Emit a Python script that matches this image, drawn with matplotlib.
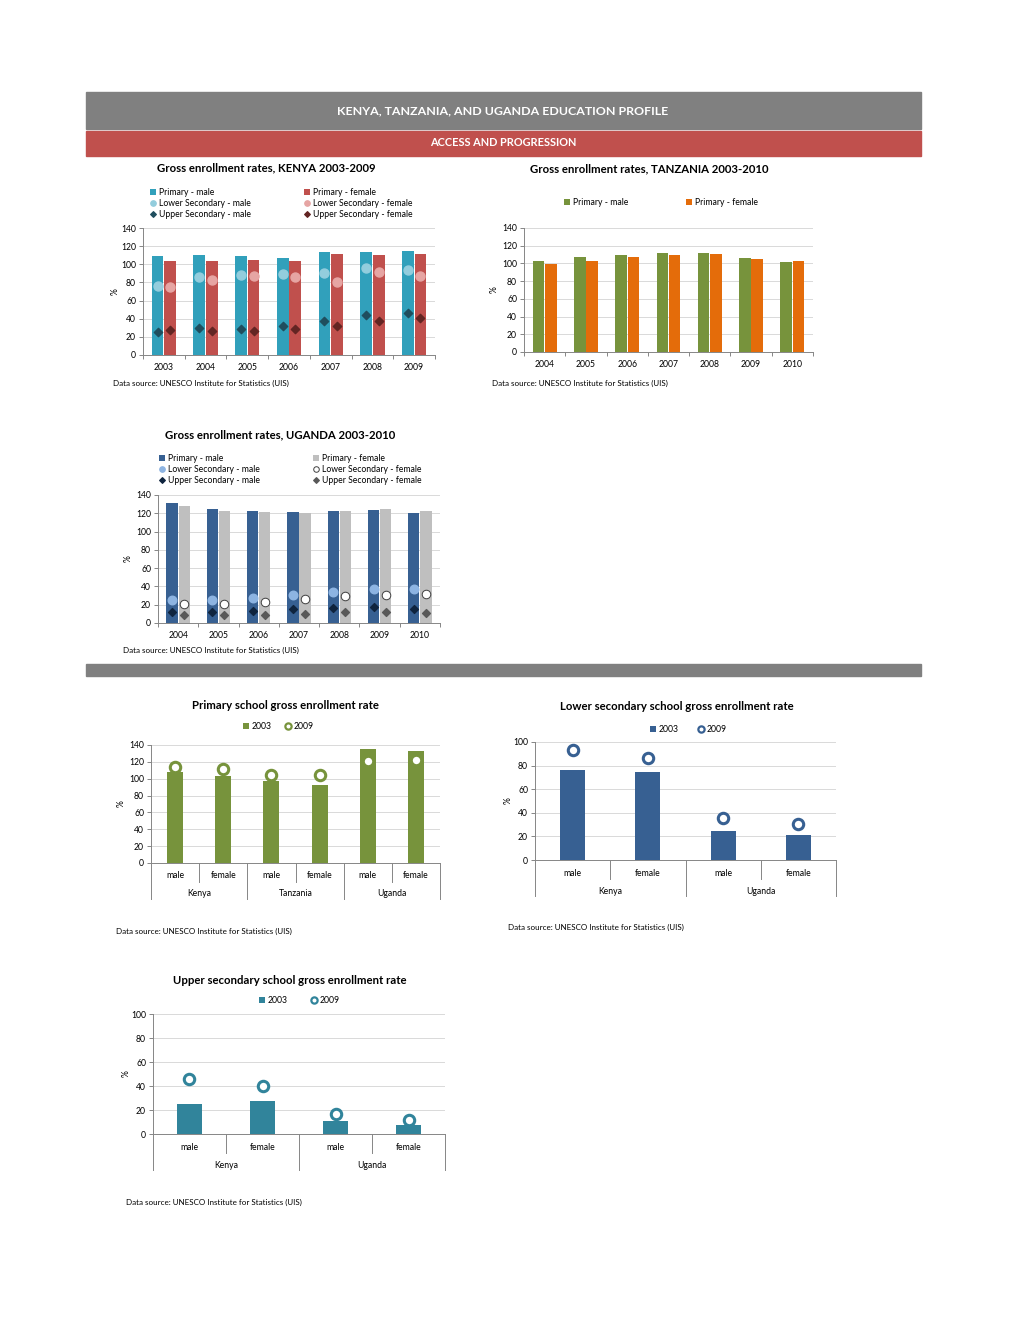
import numpy as np
import matplotlib.pyplot as plt
from matplotlib.patches import Rectangle, Patch
from matplotlib.lines import Line2D
import matplotlib.transforms as mtransforms

plt.rcParams['font.family'] = ['Lato', 'DejaVu Sans']

# ---- data ----
kenya_years = ['2003', '2004', '2005', '2006', '2007', '2008', '2009']
kenya_prim_m = [109, 110, 109.5, 107, 113, 113, 114.5]
kenya_prim_f = [104, 103.5, 105, 103.5, 111, 110.5, 111.5]
kenya_low_m = [76, 85.5, 88, 89.5, 90.5, 95.5, 94]
kenya_low_f = [74.5, 82.5, 87, 85.5, 80, 91, 87.5]
kenya_up_m = [25, 29.5, 29, 32, 37.5, 44, 46.5]
kenya_up_f = [27.5, 26.5, 26, 29, 32.5, 38, 40.5]

tz_years = ['2004', '2005', '2006', '2007', '2008', '2009', '2010']
tz_prim_m = [103, 107.5, 110, 111.5, 112, 106, 101.5]
tz_prim_f = [99.5, 103, 107, 109.5, 110.5, 105.5, 103]

ug_years = ['2004', '2005', '2006', '2007', '2008', '2009', '2010']
ug_prim_m = [131.5, 124.5, 122, 121, 123, 123.5, 120]
ug_prim_f = [128, 122, 121, 120.5, 123, 124.5, 122]
ug_low_m = [25.5, 25.5, 27, 30.5, 34, 37, 37]
ug_low_f = [20.5, 20.5, 22.5, 26, 29, 31, 32]
ug_up_m = [12.5, 12.5, 13, 15.5, 16, 17.5, 15]
ug_up_f = [8.5, 8.5, 9, 10, 11.5, 12.5, 11]

sex_labels = ['male', 'female']
prim_countries = ['Kenya', 'Tanzania', 'Uganda']
prim_2003 = [108, 103, 97, 93, 135, 133]
prim_2009 = [114, 111.5, 105, 105, 121, 122]

sec_countries = ['Kenya', 'Uganda']
low_2003 = [76, 74.5, 25, 21]
low_2009 = [93, 86.5, 35.5, 30.5]
up_2003 = [25, 27.5, 11, 7.5]
up_2009 = [46, 40, 16.5, 12]

source = 'Data source: UNESCO Institute for Statistics (UIS)'

W, H = 1020, 1320
fig = plt.figure(figsize=(W / 100, H / 100), dpi=100)
GRID = '#D9D9D9'
AXC = '#868686'
TXT = '#000000'
FS = 6.2       # small text
TFS = 8.2      # chart titles
SFS = 5.8      # data source


def add_ax(x0, y0, x1, y1):
    return fig.add_axes([x0 / W, 1 - y1 / H, (x1 - x0) / W, (y1 - y0) / H])


def ftext(x, y, s, **kw):
    fig.text(x / W, 1 - y / H, s, **kw)


def band(y0, y1, color):
    fig.patches.append(Rectangle((86 / W, 1 - y1 / H), (921 - 86) / W, (y1 - y0) / H,
                                 transform=fig.transFigure, color=color, zorder=0))


def legend_at(handles, labels, x, y):
    return fig.legend(handles, labels, loc='upper left', bbox_to_anchor=(x / W, 1 - y / H),
                      frameon=False, fontsize=FS, borderpad=0, borderaxespad=0,
                      handlelength=0.7, handletextpad=0.35, labelspacing=0.22,
                      handleheight=0.7)


def sq(c):
    return Patch(facecolor=c, edgecolor='none')


def mk(marker, fc, ec=None, ms=4, mew=0.8):
    return Line2D([], [], marker=marker, linestyle='none', markerfacecolor=fc,
                  markeredgecolor=ec if ec else fc, markersize=ms, markeredgewidth=mew)


def style(ax, ymax, step, ylab_off):
    ax.set_ylim(0, ymax)
    ax.set_yticks(range(0, ymax + 1, step))
    ax.grid(axis='y', color=GRID, lw=0.7)
    ax.set_axisbelow(True)
    for s in ['top', 'right']:
        ax.spines[s].set_visible(False)
    for s in ['left', 'bottom']:
        ax.spines[s].set_color(AXC)
        ax.spines[s].set_linewidth(0.7)
    ax.tick_params(axis='y', labelsize=FS, color=AXC, length=3, width=0.7, pad=2)
    ax.set_ylabel('%', fontsize=FS, va='center')
    w_px = ax.get_position().width * W
    ax.yaxis.set_label_coords(-ylab_off / w_px, 0.5)


def year_axis(ax, labels):
    n = len(labels)
    ax.set_xlim(-0.5, n - 0.5)
    ax.set_xticks(np.arange(n))
    ax.set_xticklabels(labels)
    ax.set_xticks(np.arange(n + 1) - 0.5, minor=True)
    ax.tick_params(axis='x', which='major', length=0, labelsize=FS, pad=6)
    ax.tick_params(axis='x', which='minor', length=3, width=0.7, color=AXC)


def two_level(ax, countries, per, lab1=13, lab2=31, short=19, long=36):
    n = len(countries) * per
    ax.set_xlim(-0.5, n - 0.5)
    ax.set_xticks([])
    hp = ax.get_position().height * H
    tr = mtransforms.blended_transform_factory(ax.transData, ax.transAxes)
    for i in range(n):
        ax.text(i, -lab1 / hp, sex_labels[i % per], transform=tr, ha='center', va='center',
                fontsize=FS, color=TXT)
    for j, c in enumerate(countries):
        ax.text(j * per + (per - 1) / 2, -lab2 / hp, c, transform=tr, ha='center', va='center',
                fontsize=FS, color=TXT)
    for b in range(n + 1):
        xb = b - 0.5
        ln = long if b % per == 0 else short
        ax.plot([xb, xb], [0, -ln / hp], transform=tr, color=AXC, lw=0.7, clip_on=False)


# ---- header bands ----
band(92, 129, '#808080')
band(131, 156, '#C0504D')
band(664, 676, '#808080')
ftext(503, 111, 'KENYA, TANZANIA, AND UGANDA EDUCATION PROFILE', color='white',
      fontsize=8.9, fontweight='bold', ha='center', va='center')
ftext(503, 143, 'ACCESS AND PROGRESSION', color='white', fontsize=7.9,
      fontweight='bold', ha='center', va='center')

# ---- Kenya ----
c_km, c_kf = '#31A0BB', '#C0504D'
c_klm, c_klf = '#93CDDD', '#E6A5A3'
c_kum, c_kuf = '#1F4E5E', '#632523'
ax = add_ax(143, 228, 435, 355)
x = np.arange(len(kenya_years))
off, bw = 0.15, 0.28
ax.bar(x - off, kenya_prim_m, bw, color=c_km, zorder=2)
ax.bar(x + off, kenya_prim_f, bw, color=c_kf, zorder=2)
ax.scatter(x - off, kenya_low_m, s=42, color=c_klm, zorder=3)
ax.scatter(x + off, kenya_low_f, s=42, color=c_klf, zorder=3)
ax.scatter(x - off, kenya_up_m, s=18, marker='D', color=c_kum, zorder=3)
ax.scatter(x + off, kenya_up_f, s=18, marker='D', color=c_kuf, zorder=3)
style(ax, 140, 20, 28)
year_axis(ax, kenya_years)
ftext(266, 168, 'Gross enrollment rates, KENYA 2003-2009', fontsize=TFS, fontweight='bold',
      ha='center', va='center')
legend_at([sq(c_km), mk('o', c_klm), mk('D', c_kum, ms=3)],
          ['Primary - male', 'Lower Secondary - male', 'Upper Secondary - male'], 150, 188)
legend_at([sq(c_kf), mk('o', c_klf), mk('D', c_kuf, ms=3)],
          ['Primary - female', 'Lower Secondary - female', 'Upper Secondary - female'], 304, 188)
ftext(113, 383, source, fontsize=SFS, va='center')

# ---- Tanzania ----
c_tm, c_tf = '#77933C', '#E46C0A'
ax = add_ax(524, 228, 813, 352)
x = np.arange(len(tz_years))
ax.bar(x - off, tz_prim_m, bw, color=c_tm, zorder=2)
ax.bar(x + off, tz_prim_f, bw, color=c_tf, zorder=2)
style(ax, 140, 20, 30)
year_axis(ax, tz_years)
ftext(649, 169, 'Gross enrollment rates, TANZANIA 2003-2010', fontsize=TFS, fontweight='bold',
      ha='center', va='center')
legend_at([sq(c_tm)], ['Primary - male'], 564, 198)
legend_at([sq(c_tf)], ['Primary - female'], 686, 198)
ftext(492, 383, source, fontsize=SFS, va='center')

# ---- Uganda ----
c_um, c_uf = '#376092', '#BFBFBF'
c_ulm = '#8DB4E2'
c_uum, c_uuf = '#0F243E', '#595959'
ax = add_ax(158, 495, 440, 623)
x = np.arange(len(ug_years))
ax.bar(x - off, ug_prim_m, bw, color=c_um, zorder=2)
ax.bar(x + off, ug_prim_f, bw, color=c_uf, zorder=2)
ax.scatter(x - off, ug_low_m, s=38, color=c_ulm, zorder=3)
ax.scatter(x + off, ug_low_f, s=38, facecolor='white', edgecolor='#404040', lw=0.7, zorder=3)
ax.scatter(x - off, ug_up_m, s=16, marker='D', color=c_uum, zorder=3)
ax.scatter(x + off, ug_up_f, s=16, marker='D', color=c_uuf, zorder=3)
style(ax, 140, 20, 30)
year_axis(ax, ug_years)
ftext(280, 435, 'Gross enrollment rates, UGANDA 2003-2010', fontsize=TFS, fontweight='bold',
      ha='center', va='center')
legend_at([sq(c_um), mk('o', c_ulm), mk('D', c_uum, ms=3)],
          ['Primary - male', 'Lower Secondary - male', 'Upper Secondary - male'], 159, 454)
legend_at([sq(c_uf), mk('o', 'white', '#404040', mew=0.7), mk('D', c_uuf, ms=3)],
          ['Primary - female', 'Lower Secondary - female', 'Upper Secondary - female'], 313, 454)
ftext(123, 650, source, fontsize=SFS, va='center')


def compare_chart(rect, v2003, v2009, color, countries, ymax, title, tpos, lpos, spos, ylab_off,
                  bw2=0.33):
    ax = add_ax(*rect)
    x = np.arange(len(v2003))
    ax.bar(x, v2003, bw2, color=color, zorder=2)
    ax.plot(x, v2009, linestyle='none', marker='o', markersize=7.5, markerfacecolor='white',
            markeredgecolor=color, markeredgewidth=2.2, zorder=3)
    style(ax, ymax, 20, ylab_off)
    two_level(ax, countries, 2)
    ftext(tpos[0], tpos[1], title, fontsize=TFS, fontweight='bold', ha='center', va='center')
    legend_at([sq(color)], ['2003'], lpos[0], lpos[1] - 4)
    legend_at([mk('o', 'white', color, ms=4.5, mew=1.6)], ['2009'], lpos[2], lpos[1] - 4)
    ftext(spos[0], spos[1], source, fontsize=SFS, va='center')
    return ax


compare_chart((151, 745, 440, 863), prim_2003, prim_2009, '#77933C', prim_countries, 140,
              'Primary school gross enrollment rate', (285, 706), (243, 726, 285), (116, 931), 30)
compare_chart((535, 742, 836, 860), low_2003, low_2009, '#376092', sec_countries, 100,
              'Lower secondary school gross enrollment rate', (677, 707), (650, 729, 698),
              (508, 927), 27)
compare_chart((153, 1014, 445, 1134), up_2003, up_2009, '#31849B', sec_countries, 100,
              'Upper secondary school gross enrollment rate', (290, 980), (259, 1000, 311),
              (126, 1202), 27)

fig.savefig('out.png', dpi=100)
